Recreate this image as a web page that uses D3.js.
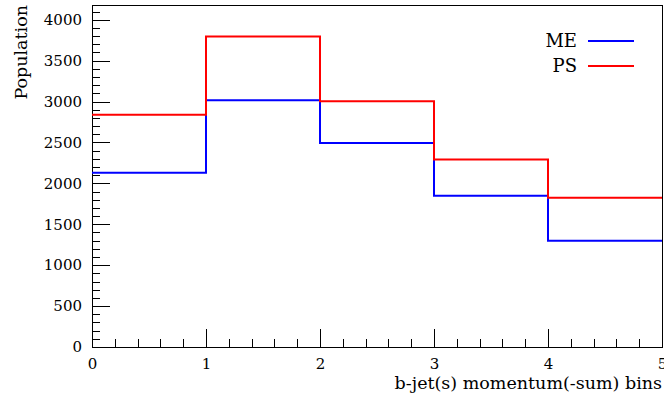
<!DOCTYPE html>
<html>
<head>
<meta charset="utf-8">
<script src="https://cdn.jsdelivr.net/npm/d3@7"></script>
<style>
  html, body { margin: 0; padding: 0; background: #fff; }
  svg { display: block; font-family: "DejaVu Serif", "Liberation Serif", serif; }
</style>
</head>
<body>
<svg id="chart" width="664" height="401"></svg>
<script>
// ---- data ----
const binEdges = [0, 1, 2, 3, 4, 5];
const seriesNames = ["ME", "PS"];
const seriesColors = ["#0000ff", "#ff0000"];
const meValues = [2130, 3015, 2493, 1848, 1300];
const psValues = [2840, 3795, 3005, 2292, 1824];
const yTickValues = [0, 500, 1000, 1500, 2000, 2500, 3000, 3500, 4000];
const xTickValues = [0, 1, 2, 3, 4, 5];
const xTitle = "b-jet(s) momentum(-sum) bins";
const yTitle = "Population";

// ---- layout ----
const mLeft = 92, mRight = 662, mTop = 5, mBottom = 347;
const svg = d3.select("#chart");

const x = d3.scaleLinear().domain([0, 5]).range([mLeft, mRight]);
const y = d3.scaleLinear().domain([0, 4180]).range([mBottom, mTop]);

// frame
svg.append("rect")
  .attr("x", mLeft).attr("y", mTop)
  .attr("width", mRight - mLeft).attr("height", mBottom - mTop)
  .attr("fill", "none").attr("stroke", "#000").attr("stroke-width", 1)
  .attr("shape-rendering", "crispEdges");

// y axis: ticks drawn inward
const yMinor = d3.range(0, 4180, 100);
const gyMinor = svg.append("g").attr("transform", `translate(${mLeft},0)`)
  .call(d3.axisRight(y).tickValues(yMinor).tickSize(8).tickFormat(""));
gyMinor.select(".domain").remove();
const gyMajor = svg.append("g").attr("transform", `translate(${mLeft},0)`)
  .call(d3.axisRight(y).tickValues(yTickValues).tickSize(18).tickFormat(""));
gyMajor.select(".domain").remove();

// y tick labels
const gyLab = svg.append("g").attr("transform", `translate(${mLeft},0)`)
  .call(d3.axisLeft(y).tickValues(yTickValues).tickSize(0).tickPadding(10).tickFormat(d3.format("d")));
gyLab.select(".domain").remove();
gyLab.selectAll("text")
  .attr("font-family", "DejaVu Serif").attr("font-size", 15).attr("fill", "#000");

// x axis: ticks drawn inward (upward)
const xMinor = d3.range(0, 5.0001, 0.2);
const gxMinor = svg.append("g").attr("transform", `translate(0,${mBottom})`)
  .call(d3.axisTop(x).tickValues(xMinor).tickSize(8).tickFormat(""));
gxMinor.select(".domain").remove();
const gxMajor = svg.append("g").attr("transform", `translate(0,${mBottom})`)
  .call(d3.axisTop(x).tickValues(xTickValues).tickSize(18).tickFormat(""));
gxMajor.select(".domain").remove();
svg.selectAll("g line").attr("stroke", "#000").attr("shape-rendering", "crispEdges");

// x tick labels
const gxLab = svg.append("g").attr("transform", `translate(0,${mBottom})`)
  .call(d3.axisBottom(x).tickValues(xTickValues).tickSize(0).tickPadding(11).tickFormat(d3.format("d")));
gxLab.select(".domain").remove();
gxLab.selectAll("text")
  .attr("font-family", "DejaVu Serif").attr("font-size", 15).attr("fill", "#000");

// titles
svg.append("text")
  .attr("x", mRight).attr("y", 389)
  .attr("text-anchor", "end")
  .attr("font-size", 17.5)
  .text(xTitle);

svg.append("text")
  .attr("transform", `translate(27,${mTop}) rotate(-90)`)
  .attr("text-anchor", "end")
  .attr("font-size", 17.5)
  .text(yTitle);

// histograms
const allSeries = [meValues, psValues];
const line = d3.line().curve(d3.curveStepAfter).x(d => x(d[0])).y(d => y(d[1]));
allSeries.forEach((vals, i) => {
  const pts = vals.map((v, j) => [binEdges[j], v]);
  pts.push([binEdges[vals.length], vals[vals.length - 1]]);
  svg.append("path")
    .attr("d", line(pts))
    .attr("fill", "none")
    .attr("stroke", seriesColors[i])
    .attr("stroke-width", 2);
});

// redraw right frame edge on top
svg.append("line")
  .attr("x1", mRight).attr("x2", mRight).attr("y1", mTop).attr("y2", mBottom)
  .attr("stroke", "#000").attr("shape-rendering", "crispEdges");

// legend
const legendY = [41, 66];
seriesNames.forEach((name, i) => {
  svg.append("text")
    .attr("x", 577).attr("y", legendY[i])
    .attr("dy", "0.36em")
    .attr("text-anchor", "end")
    .attr("font-size", 18)
    .text(name);
  svg.append("line")
    .attr("x1", 588).attr("x2", 634)
    .attr("y1", legendY[i]).attr("y2", legendY[i])
    .attr("stroke", seriesColors[i]).attr("stroke-width", 2);
});
</script>
</body>
</html>
